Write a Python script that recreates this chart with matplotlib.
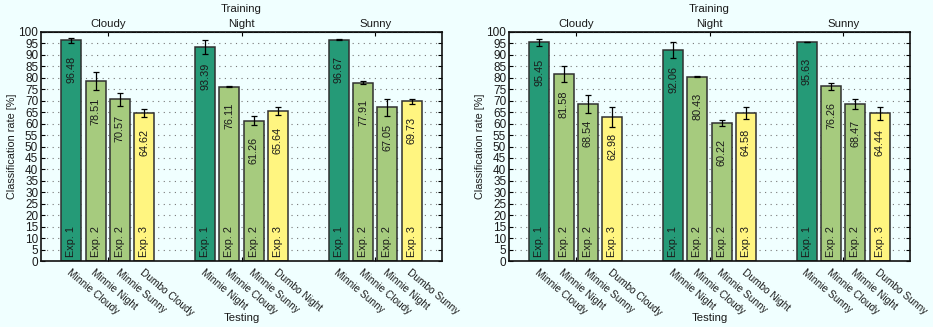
import numpy as np
import matplotlib
matplotlib.use("Agg")
import matplotlib.pyplot as plt

plt.rcParams["font.family"] = ["Liberation Sans", "DejaVu Sans"]
plt.rcParams["font.size"] = 7.8

# ---------------------- DATA ----------------------
training = ["Cloudy", "Night", "Sunny"]
exp_labels = ["Exp. 1", "Exp. 2", "Exp. 2", "Exp. 3"]
exp_colors = {"Exp. 1": "#259a77", "Exp. 2": "#a6cb7e", "Exp. 3": "#fff580"}

testing = [
    ["Minnie Cloudy", "Minnie Night", "Minnie Sunny", "Dumbo Cloudy"],
    ["Minnie Night", "Minnie Cloudy", "Minnie Sunny", "Dumbo Night"],
    ["Minnie Sunny", "Minnie Cloudy", "Minnie Night", "Dumbo Sunny"],
]

# left chart
rates_a = [[96.48, 78.51, 70.57, 64.62],
           [93.39, 76.11, 61.26, 65.64],
           [96.67, 77.91, 67.05, 69.73]]
err_a = [[1.1, 3.9, 3.0, 1.6],
         [3.1, 0.2, 2.0, 1.7],
         [0.2, 0.6, 3.7, 1.0]]

# right chart
rates_b = [[95.45, 81.58, 68.54, 62.98],
           [92.06, 80.43, 60.22, 64.58],
           [95.63, 76.26, 68.47, 64.44]]
err_b = [[1.6, 3.5, 4.0, 4.4],
         [3.6, 0.2, 1.3, 2.5],
         [0.2, 1.6, 2.2, 2.9]]

BG = "#f0ffff"
TXT = "#1a1a1a"
GROUP_STEP = 5.5


def draw_panel(ax, rates, errs):
    ax.set_facecolor(BG)
    for g in range(len(training)):
        for i in range(4):
            x = g * GROUP_STEP + i
            v = rates[g][i]
            exp = exp_labels[i]
            ax.bar(x, v, width=0.82, color=exp_colors[exp], edgecolor="#303030",
                   linewidth=1.1, zorder=2)
            ax.errorbar(x, v, yerr=errs[g][i], color="black", lw=0.9,
                        capsize=2.2, capthick=0.9, zorder=3)
            ax.annotate(f"{v:.2f}", (x, v), xytext=(0, -11.5), textcoords="offset points",
                        rotation=90, ha="center", va="top", color=TXT, zorder=4)
            ax.annotate(exp, (x, 0), xytext=(0, 3), textcoords="offset points",
                        rotation=90, ha="center", va="bottom", color=TXT, zorder=4)

    ax.set_xlim(-1.25, 2 * GROUP_STEP + 3 + 1.25)
    ax.set_ylim(0, 100)
    ax.set_yticks(np.arange(0, 101, 5))
    ax.yaxis.grid(True, color="#777777", linestyle=(0, (1, 4)), linewidth=0.8, zorder=0)
    ax.set_axisbelow(True)
    ax.tick_params(axis="y", direction="in", length=3, right=True, pad=2,
                   labelsize=8.5, labelcolor=TXT)
    ax.set_ylabel("Classification rate [%]", labelpad=1, color=TXT)

    # testing labels under each bar
    centers = [g * GROUP_STEP + 1.5 for g in range(len(training))]
    ax.set_xticks(centers)
    ax.set_xticklabels([])
    ax.tick_params(axis="x", direction="in", length=3, top=False)
    for g in range(len(training)):
        for i in range(4):
            ax.annotate(testing[g][i], (g * GROUP_STEP + i, 0), xytext=(0, -4.5),
                        textcoords="offset points", rotation=-40, ha="left", va="top",
                        rotation_mode="anchor", color=TXT, fontsize=7.3,
                        annotation_clip=False)
    ax.text(0.5, -0.249, "Testing", transform=ax.transAxes, ha="center", va="center",
            fontsize=8.2, color=TXT)

    # training groups on top
    top = ax.secondary_xaxis("top")
    top.set_xticks(centers)
    top.set_xticklabels(training, fontsize=8.2, color=TXT)
    top.tick_params(direction="in", length=3, pad=2)
    top.set_xlabel("Training", labelpad=5, fontsize=8.2, color=TXT)

    for s in ax.spines.values():
        s.set_linewidth(1.2)
        s.set_color("#111111")


fig = plt.figure(figsize=(9.33, 3.27), dpi=100, facecolor=BG)
ax1 = fig.add_axes([41 / 933, 66 / 327, 401 / 933, 229 / 327])
ax2 = fig.add_axes([509 / 933, 66 / 327, 401 / 933, 229 / 327])

draw_panel(ax1, rates_a, err_a)
draw_panel(ax2, rates_b, err_b)

fig.savefig("out.png", dpi=100, facecolor=BG)
